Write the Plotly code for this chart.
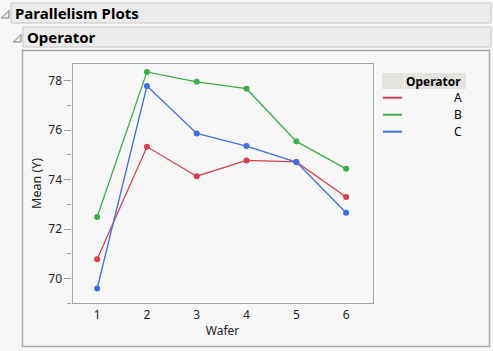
import plotly.graph_objects as go

W, H = 493, 351

wafers = [1, 2, 3, 4, 5, 6]
operators = ["A", "B", "C"]
mean_A = [70.78, 75.33, 74.14, 74.78, 74.72, 73.30]
mean_B = [72.49, 78.36, 77.96, 77.68, 75.55, 74.44]
mean_C = [69.60, 77.79, 75.87, 75.36, 74.71, 72.66]
series = {"A": mean_A, "B": mean_B, "C": mean_C}
colors = {"A": "#d4404f", "B": "#3aae48", "C": "#3d6fe0"}
y_ticks = [70, 72, 74, 76, 78]

FONT = "Segoe UI, Noto Sans, Open Sans, sans-serif"


def px(x):
    return x / W


def py(y):
    return 1 - y / H


fig = go.Figure()
for op in operators:
    fig.add_trace(go.Scatter(
        x=wafers, y=series[op], mode="lines+markers", name=op,
        line=dict(color=colors[op], width=1.3),
        marker=dict(color=colors[op], size=6),
        showlegend=False,
    ))

shapes = []
annotations = []

# Header bars
for (x0, y0, x1, y1) in [(11, 3, 491, 23), (23, 27, 491, 47)]:
    shapes.append(dict(type="rect", xref="paper", yref="paper",
                       x0=px(x0), y0=py(y1), x1=px(x1), y1=py(y0),
                       fillcolor="#ebebeb", line=dict(color="#c6c6c6", width=1), layer="below"))
# Outer content box
shapes.append(dict(type="rect", xref="paper", yref="paper",
                   x0=px(22.5), y0=py(346.5), x1=px(489.5), y1=py(50.5),
                   fillcolor="#f7f7f7", line=dict(color="#a8a8a8", width=1.5), layer="below"))

# Disclosure triangles
def tri(x0, y0, s):
    return (f"M {px(x0)} {py(y0 + s)} L {px(x0 + s)} {py(y0 + s)} "
            f"L {px(x0 + s)} {py(y0)} Z")

for (tx, ty) in [(1.5, 10.5), (13.5, 34.5)]:
    shapes.append(dict(type="path", xref="paper", yref="paper", path=tri(tx, ty, 7.5),
                       fillcolor="#f0f0f0", line=dict(color="#7a7a7a", width=1)))

annotations.append(dict(text="<b>Parallelism Plots</b>", xref="paper", yref="paper",
                        x=px(13), y=py(13.5), xanchor="left", yanchor="middle",
                        showarrow=False, font=dict(family=FONT, size=15, color="#000")))
annotations.append(dict(text="<b>Operator</b>", xref="paper", yref="paper",
                        x=px(25), y=py(37.5), xanchor="left", yanchor="middle",
                        showarrow=False, font=dict(family=FONT, size=15, color="#000")))

# Legend table
shapes.append(dict(type="rect", xref="paper", yref="paper",
                   x0=px(382), y0=py(89), x1=px(404), y1=py(73),
                   fillcolor="#e3e3e0", line=dict(width=0)))
shapes.append(dict(type="rect", xref="paper", yref="paper",
                   x0=px(405), y0=py(89), x1=px(466), y1=py(73),
                   fillcolor="#e3e3e0", line=dict(width=0)))
annotations.append(dict(text="<b>Operator</b>", xref="paper", yref="paper",
                        x=px(463), y=py(81.5), xanchor="right", yanchor="middle",
                        showarrow=False, font=dict(family=FONT, size=12, color="#000")))
for i, op in enumerate(operators):
    yy = 97.7 + 17 * i
    shapes.append(dict(type="line", xref="paper", yref="paper",
                       x0=px(383), x1=px(402), y0=py(yy), y1=py(yy),
                       line=dict(color=colors[op], width=2)))
    annotations.append(dict(text=op, xref="paper", yref="paper",
                            x=px(463.5), y=py(yy), xanchor="right", yanchor="middle",
                            showarrow=False, font=dict(family=FONT, size=12, color="#000")))

fig.update_layout(
    width=W, height=H,
    margin=dict(l=0, r=0, t=0, b=0),
    paper_bgcolor="#f7f7f7",
    plot_bgcolor="#ffffff",
    font=dict(family=FONT, size=12, color="#222"),
    shapes=shapes,
    annotations=annotations,
    xaxis=dict(
        domain=[px(72.5), px(372.5)],
        range=[0.505, 6.53],
        tickvals=wafers, ticktext=[str(w) for w in wafers],
        showgrid=False, zeroline=False,
        showline=True, linecolor="#a4a4a4", linewidth=1.2, mirror=True,
        ticks="", tickfont=dict(family=FONT, size=12, color="#222"),
        title=dict(text="Wafer", font=dict(family=FONT, size=12, color="#222"), standoff=4),
    ),
    yaxis=dict(
        domain=[py(303.3), py(63.5)],
        range=[69.0, 78.70],
        tickvals=y_ticks,
        showgrid=False, zeroline=False,
        showline=True, linecolor="#a4a4a4", linewidth=1.2, mirror=True,
        ticks="outside", ticklen=7, tickcolor="#a0a0a0", tickwidth=1,
        minor=dict(dtick=1, tick0=69, ticks="outside", ticklen=4, tickcolor="#a0a0a0", tickwidth=1),
        tickfont=dict(family=FONT, size=12, color="#222"),
        title=dict(text="Mean (Y)", font=dict(family=FONT, size=12.5, color="#222"), standoff=3),
    ),
)

fig.write_html("out.html")
